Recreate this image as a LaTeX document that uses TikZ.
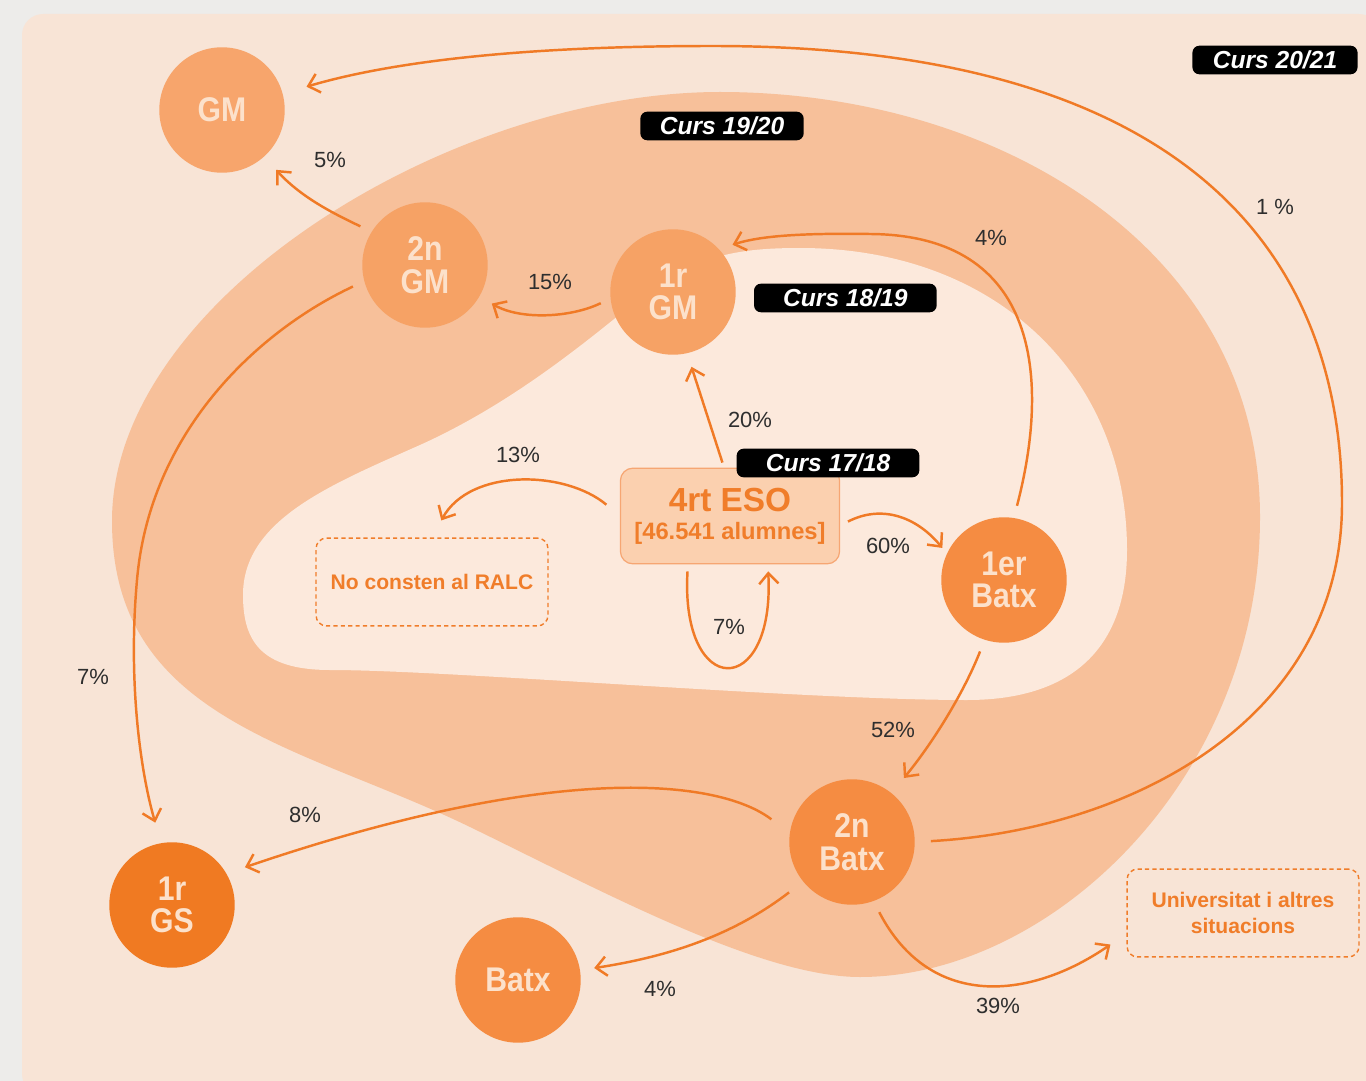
\documentclass[tikz,border=0pt]{standalone}
\usepackage{fontspec}
\setmainfont{Liberation Sans}
\newfontfamily\circfont[FakeStretch=0.88]{Liberation Sans}
\usetikzlibrary{calc,shapes,backgrounds,positioning,arrows.meta}

\definecolor{pagegray}{HTML}{EDECEA}
\definecolor{bgpeach}{HTML}{F8E4D6}
\definecolor{ringor}{HTML}{F7C09A}
\definecolor{coreor}{HTML}{FCE9DC}
\definecolor{arrowor}{HTML}{F07A26}
\definecolor{textor}{HTML}{F07D2A}
\definecolor{pctgray}{HTML}{2E2E2E}
\definecolor{circtext}{HTML}{FCE1CB}
\definecolor{gmlight}{HTML}{F7A56C}
\definecolor{gmmid}{HTML}{F6A265}
\definecolor{batxor}{HTML}{F58C42}
\definecolor{gsor}{HTML}{F07A22}
\definecolor{esofill}{HTML}{FBD0AF}
\definecolor{esoline}{HTML}{F6A673}

\begin{document}
\begin{tikzpicture}[x=0.02cm, y=-0.02cm,
    >={Straight Barb[length=6pt,width=11pt]},
    flow/.style={->, draw=arrowor, line width=1.4pt, shorten >=8pt, shorten <=7pt},
    stage/.style={circle, minimum size=71.4pt, inner sep=0pt, text=circtext,
        font=\circfont\bfseries\fontsize{19.5}{18.5}\selectfont, align=center},
    curs/.style={fill=black, rounded corners=4pt, text=white, inner sep=0pt,
        minimum height=16.3pt, font=\bfseries\itshape\fontsize{14}{16}\selectfont},
    outbox/.style={draw=textor, dash pattern=on 2.4pt off 1.8pt, line width=0.8pt,
        rounded corners=6pt, text=textor, align=center,
        minimum width=132pt, minimum height=50pt,
        font=\bfseries\fontsize{12}{15}\selectfont},
    pct/.style={text=pctgray, inner sep=1pt, font=\fontsize{12.5}{14}\selectfont}]

    % Background and course regions
    \useasboundingbox (0,0) rectangle (1366,1081);
    \fill[pagegray] (0,0) rectangle (1366,1081);
    \fill[bgpeach, rounded corners=12pt] (22,14) rectangle (1380,1095);
    \fill[ringor] (720,92) .. controls (1000,92) and (1260,250) .. (1260,517)
        .. controls (1260,780) and (1050,977) .. (860,977)
        .. controls (760,977) and (600,890) .. (470,827)
        .. controls (301,745) and (112,720) .. (112,521)
        .. controls (112,300) and (450,92) .. (720,92) -- cycle;
    \fill[coreor] (800,248) .. controls (1000,248) and (1127,380) .. (1127,550)
        .. controls (1127,650) and (1070,700) .. (967,700)
        .. controls (800,700) and (450,670) .. (330,670)
        .. controls (260,670) and (243,640) .. (243,595)
        .. controls (243,520) and (330,485) .. (420,445)
        .. controls (520,400) and (600,330) .. (650,290)
        .. controls (700,255) and (740,248) .. (800,248) -- cycle;

    % Define nodes
    \node[stage, fill=gmlight] (GM) at (222,110) {GM};
    \node[stage, fill=gmmid] (GM2) at (425,265) {2n\\GM};
    \node[stage, fill=gmmid] (GM1) at (673,292) {1r\\GM};
    \node[stage, fill=batxor] (Batx1) at (1004,580) {1er\\Batx};
    \node[stage, fill=batxor] (Batx2) at (852,842) {2n\\Batx};
    \node[stage, fill=batxor] (Batx) at (518,980) {Batx};
    \node[stage, fill=gsor] (GS1) at (172,905) {1r\\GS};

    \node[draw=esoline, fill=esofill, line width=0.7pt, rounded corners=7pt,
        minimum width=124.7pt, minimum height=54.4pt, align=center, text=textor,
        inner sep=0pt] (ESO) at (730,516)
        {{\bfseries\fontsize{19}{20}\selectfont 4rt ESO}\\[4pt]
         {\bfseries\fontsize{13.5}{15}\selectfont [46.541 alumnes]}};

    \node[outbox] (RALC) at (432,582) {No consten al RALC};
    \node[outbox] (Univ) at (1243,913) {Universitat i altres\\situacions};

    \node[curs, minimum width=94pt] (C2021) at (1275,60) {Curs 20/21};
    \node[curs, minimum width=93pt] (C1920) at (722,126) {Curs 19/20};
    \node[curs, minimum width=104pt, right=10pt of GM1, yshift=-3.4pt] (C1819) {Curs 18/19};
    \node[curs, minimum width=104pt] (C1718) at (828,463) {Curs 17/18};

    % Percentages
    \node[pct] (p1) at (1275,207) {1 \%};
    \node[pct] (p5) at (330,160) {5\%};
    \node[pct] (p15) at (550,282) {15\%};
    \node[pct] (p20) at (750,420) {20\%};
    \node[pct] (p13) at (518,455) {13\%};
    \node[pct] (p7a) at (729,627) {7\%};
    \node[pct] (p60) at (888,546) {60\%};
    \node[pct] (p4a) at (991,238) {4\%};
    \node[pct] (p52) at (893,730) {52\%};
    \node[pct] (p7b) at (93,677) {7\%};
    \node[pct] (p8) at (305,815) {8\%};
    \node[pct] (p4b) at (660,989) {4\%};
    \node[pct] (p39) at (998,1006) {39\%};

    % Flows
    \draw[flow, shorten >=14pt, shorten <=9pt] (Batx2.east) .. controls (1130,830) and (1342,720) .. (1342,503)
        .. controls (1342,240) and (1170,46) .. (713,46) .. controls (520,46) and (390,62) .. (GM.15);
    \draw[flow, shorten >=10pt] (GM2.148) .. controls (330,212) and (300,196) .. (GM.-48);
    \draw[flow, shorten <=6pt] (GM1.186) .. controls (570,318) and (520,320) .. (GM2.-30);
    \draw[flow, shorten <=3pt] (ESO.97) -- (GM1.-77);
    \draw[flow, shorten <=10pt, shorten >=11pt] (ESO.west) .. controls (565,470) and (470,468) .. (RALC.north);
    \draw[flow, shorten <=4pt, shorten >=4pt] (ESO.-131) .. controls (680,700) and (775,700) .. (ESO.-52);
    \draw[flow, shorten <=5pt, shorten >=4pt] (ESO.-5) .. controls (880,505) and (915,515) .. (Batx1.155);
    \draw[flow] (Batx1.81) .. controls (1050,380) and (1040,235) .. (870,234)
        .. controls (800,233) and (760,236) .. (GM1.43);
    \draw[flow, shorten >=11pt] (Batx1.-108) .. controls (965,690) and (935,740) .. (Batx2.51);
    \draw[flow, shorten >=12pt] (GM2.195) .. controls (260,330) and (150,430) .. (137,580)
        .. controls (128,680) and (140,770) .. (GS1.100);
    \draw[flow, shorten <=13pt, shorten >=11pt] (Batx2.172) .. controls (720,780) and (560,760) .. (GS1.30);
    \draw[flow, shorten <=10pt] (Batx2.-141) .. controls (740,930) and (680,955) .. (Batx.9);
    \draw[flow, shorten >=11pt] (Batx2.-70) .. controls (930,1010) and (1030,1000) .. (Univ.-170);

\end{tikzpicture}
\end{document}
